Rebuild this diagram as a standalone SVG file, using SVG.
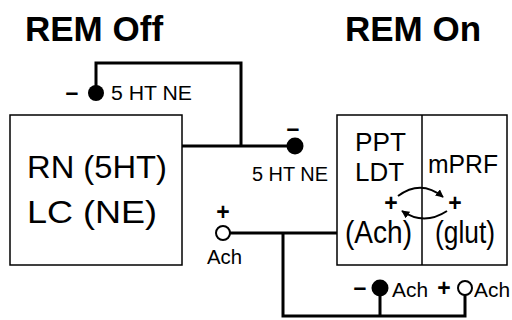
<svg xmlns="http://www.w3.org/2000/svg" width="512" height="320" viewBox="0 0 512 320">
<defs>
<style>
text{font-family:"Liberation Sans",Arial,sans-serif;fill:#000}
.title{font-size:35px;font-weight:bold}
.big{font-size:31px}
.mid{font-size:26.5px}
.lbl{font-size:20px}
.sign{font-size:23px;font-weight:bold;text-anchor:middle}
.box{fill:none;stroke:#000;stroke-width:1.5}
.wire{fill:none;stroke:#000;stroke-width:3}
.arc{fill:none;stroke:#000;stroke-width:2}
.open{fill:#fff;stroke:#000;stroke-width:2}
</style>
<marker id="ah" viewBox="0 0 10 10" refX="9" refY="5" markerWidth="8" markerHeight="8" orient="auto-start-reverse" markerUnits="userSpaceOnUse">
<path d="M0,0 L10,5 L0,10 Z" fill="#000"/>
</marker>
</defs>
<rect width="512" height="320" fill="#fff"/>
<text class="title" x="25" y="41">REM Off</text>
<text class="title" x="345" y="41">REM On</text>

<g id="connectors">
<path class="wire" d="M96,93 V63 H241 V146"/>
<path class="wire" d="M182,146 H295"/>
<path class="wire" d="M216,233 H337"/>
<path class="wire" d="M283,233 V316 H465 V295"/>
<path class="wire" d="M380,316 V288"/>
<path class="arc" d="M398,196 Q421,179 443,197" marker-end="url(#ah)"/>
<path class="arc" d="M447,211 Q424,226 402,211" marker-end="url(#ah)"/>
</g>

<g id="rn-lc">
<rect class="box" x="10" y="115" width="172" height="150"/>
<text class="big" x="27" y="178" textLength="140" lengthAdjust="spacingAndGlyphs">RN (5HT)</text>
<text class="big" x="27" y="223" textLength="130" lengthAdjust="spacingAndGlyphs">LC (NE)</text>
</g>

<g id="ppt-mprf">
<rect class="box" x="337" y="115" width="170" height="150"/>
<line x1="422" y1="115" x2="422" y2="265" stroke="#000" stroke-width="1.5"/>
<text class="mid" x="355" y="151" textLength="51" lengthAdjust="spacingAndGlyphs">PPT</text>
<text class="mid" x="355" y="181" textLength="49" lengthAdjust="spacingAndGlyphs">LDT</text>
<text class="mid" x="428" y="173" textLength="70" lengthAdjust="spacingAndGlyphs">mPRF</text>
<text class="big" x="345" y="243" textLength="67" lengthAdjust="spacingAndGlyphs">(Ach)</text>
<text class="big" x="435" y="243" textLength="60" lengthAdjust="spacingAndGlyphs">(glut)</text>
<text class="sign" x="391" y="211">+</text>
<text class="sign" x="455" y="211">+</text>
</g>

<g id="top-synapse">
<circle cx="96" cy="93" r="8" fill="#000"/>
<text class="sign" x="72" y="100">–</text>
<text class="lbl" x="111" y="100" textLength="81" lengthAdjust="spacingAndGlyphs">5 HT NE</text>
</g>

<g id="mid-synapse">
<circle cx="295" cy="146" r="8.5" fill="#000"/>
<text class="sign" x="293" y="136">–</text>
<text class="lbl" x="252" y="181" textLength="76" lengthAdjust="spacingAndGlyphs">5 HT NE</text>
</g>

<g id="ach-left">
<circle class="open" cx="223" cy="233" r="7"/>
<text class="sign" x="223" y="220">+</text>
<text class="lbl" x="207" y="264" textLength="35" lengthAdjust="spacingAndGlyphs">Ach</text>
</g>

<g id="ach-inhib">
<circle cx="380" cy="288" r="8.5" fill="#000"/>
<text class="sign" x="360" y="295">–</text>
<text class="lbl" x="392" y="297" textLength="36" lengthAdjust="spacingAndGlyphs">Ach</text>
</g>

<g id="ach-excit">
<circle class="open" cx="465" cy="288" r="7"/>
<text class="sign" x="444" y="296">+</text>
<text class="lbl" x="474" y="297" textLength="36" lengthAdjust="spacingAndGlyphs">Ach</text>
</g>
</svg>
